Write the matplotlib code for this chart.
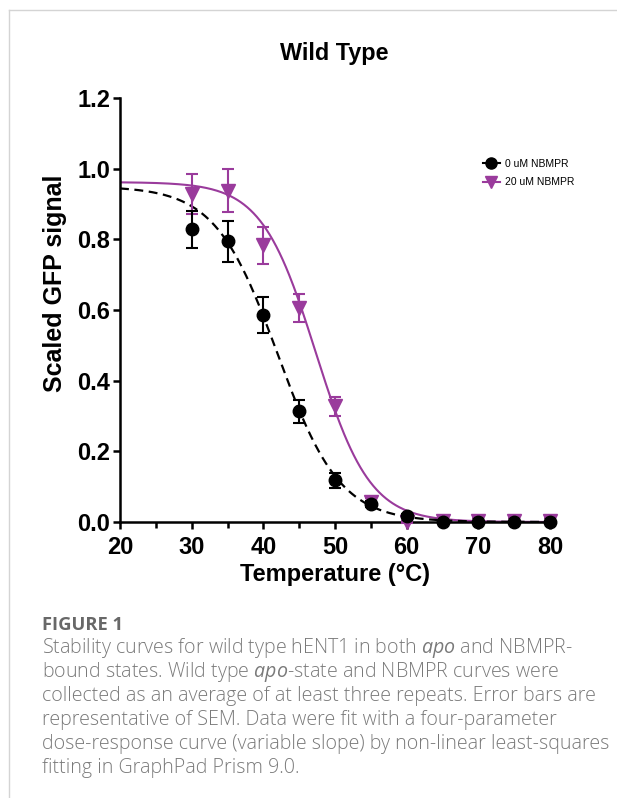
import numpy as np
import matplotlib.pyplot as plt
from matplotlib.lines import Line2D

plt.rcParams['font.family'] = ['Liberation Sans', 'DejaVu Sans']
plt.rcParams['mathtext.fontset'] = 'custom'
plt.rcParams['mathtext.rm'] = 'Open Sans'
plt.rcParams['mathtext.it'] = 'Open Sans:italic'

# measured points (mean +/- SEM)
temps = [30, 35, 40, 45, 50, 55, 60, 65, 70, 75, 80]
apo_mean = [0.828, 0.794, 0.586, 0.313, 0.118, 0.051, 0.017, 0.0, 0.0, 0.0, 0.0]
apo_sem = [0.052, 0.058, 0.050, 0.033, 0.022, 0.008, 0.006, 0.003, 0.003, 0.003, 0.003]
nbmpr_mean = [0.929, 0.938, 0.783, 0.606, 0.328, 0.058, 0.0, 0.003, 0.003, 0.003, 0.003]
nbmpr_sem = [0.057, 0.060, 0.053, 0.040, 0.027, 0.010, 0.004, 0.009, 0.009, 0.009, 0.009]

# four-parameter fit (top, bottom, midpoint, hill slope)
apo_fit = (0.95, 0.0, 42.0, 0.10)
nbmpr_fit = (0.962, 0.0, 47.3, 0.115)

purple = '#9a3b9c'


def four_pl(x, top, bottom, mid, slope):
    return bottom + (top - bottom) / (1 + 10 ** ((x - mid) * slope))


W, H = 617, 798
fig = plt.figure(figsize=(W / 100, H / 100), dpi=100)
ax = fig.add_axes([120 / W, (H - 522) / H, 430 / W, 424 / H])

xs = np.linspace(20, 80, 400)
ax.plot(xs, four_pl(xs, *nbmpr_fit), color=purple, lw=1.5, zorder=2)
ax.plot(xs, four_pl(xs, *apo_fit), color='black', lw=1.6, ls=(0, (4, 2.5)), zorder=3)

ax.errorbar(temps, nbmpr_mean, yerr=nbmpr_sem, fmt='v', color=purple, ms=9.5,
            elinewidth=1.5, capsize=4.5, capthick=1.5, zorder=4, clip_on=False)
ax.errorbar(temps, apo_mean, yerr=apo_sem, fmt='o', color='black', ms=9,
            elinewidth=1.5, capsize=4.5, capthick=1.5, zorder=5, clip_on=False)

ax.set_xlim(20, 80)
ax.set_ylim(0, 1.2)
ax.set_xticks([20, 30, 40, 50, 60, 70, 80])
ax.set_xticks([25, 35, 45, 55, 65, 75], minor=True)
ax.set_yticks([0.0, 0.2, 0.4, 0.6, 0.8, 1.0, 1.2])
ax.set_yticklabels(['0.0', '0.2', '0.4', '0.6', '0.8', '1.0', '1.2'])
for s in ['top', 'right']:
    ax.spines[s].set_visible(False)
for s in ['left', 'bottom']:
    ax.spines[s].set_linewidth(1.8)
ax.tick_params(which='major', length=5, width=1.8, labelsize=17)
ax.tick_params(which='minor', length=4, width=1.8)
ax.tick_params(axis='x', pad=5)
ax.tick_params(axis='y', pad=2)
for lab in ax.get_xticklabels() + ax.get_yticklabels():
    lab.set_fontweight('bold')

fig.text(334.5 / W, (H - 581) / H, 'Temperature (°C)', fontsize=17, fontweight='bold',
         ha='center', va='baseline')
fig.text(55 / W, (H - 283) / H, 'Scaled GFP signal', fontsize=18, fontweight='bold',
         ha='center', va='center', rotation=90)
fig.text(334 / W, (H - 60) / H, 'Wild Type', fontsize=16.8, fontweight='bold',
         ha='center', va='baseline')

handles = [Line2D([], [], color='black', marker='o', ms=8, lw=1.5),
           Line2D([], [], color=purple, marker='v', ms=8.5, lw=1.5)]
ax.legend(handles, ['0 uM NBMPR', '20 uM NBMPR'], loc='center left',
          bbox_to_anchor=(483 / W, (H - 173) / H), bbox_transform=fig.transFigure,
          frameon=False, fontsize=7.5, handlelength=1.6, handletextpad=0.5,
          labelspacing=0.85, borderpad=0, borderaxespad=0)

# page frame
fig.add_artist(Line2D([9 / W, 1], [(H - 10) / H] * 2, color='#d4d4d4', lw=1))
fig.add_artist(Line2D([9 / W] * 2, [0, (H - 10) / H], color='#d4d4d4', lw=1))

# caption
cap_x = 41.5 / W
head = fig.text(cap_x, (H - 630) / H, 'FIGURE 1', family='Open Sans', fontweight='bold',
                fontsize=13.5, color='#686868', va='baseline')
caption = [
    r'Stability curves for wild type hENT1 in both $\mathit{apo}$ and NBMPR-',
    r'bound states. Wild type $\mathit{apo}$-state and NBMPR curves were',
    'collected as an average of at least three repeats. Error bars are',
    'representative of SEM. Data were fit with a four-parameter',
    'dose-response curve (variable slope) by non-linear least-squares',
    'fitting in GraphPad Prism 9.0.',
]
lines = []
for i, line in enumerate(caption):
    lines.append(fig.text(cap_x, (H - 653 - 24 * i) / H, line, family='Open Sans',
                          fontweight='light', fontsize=13, color='#7a7a7a', va='baseline'))

# scale caption so the third line spans the same width as in the page layout
r = fig.canvas.get_renderer()
w3 = lines[2].get_window_extent(r).width
fs = 13 * 548 / w3
for t in lines:
    t.set_fontsize(fs)
wh = head.get_window_extent(r).width
head.set_fontsize(13.5 * 81 / wh)

fig.savefig('out.png', dpi=100)
